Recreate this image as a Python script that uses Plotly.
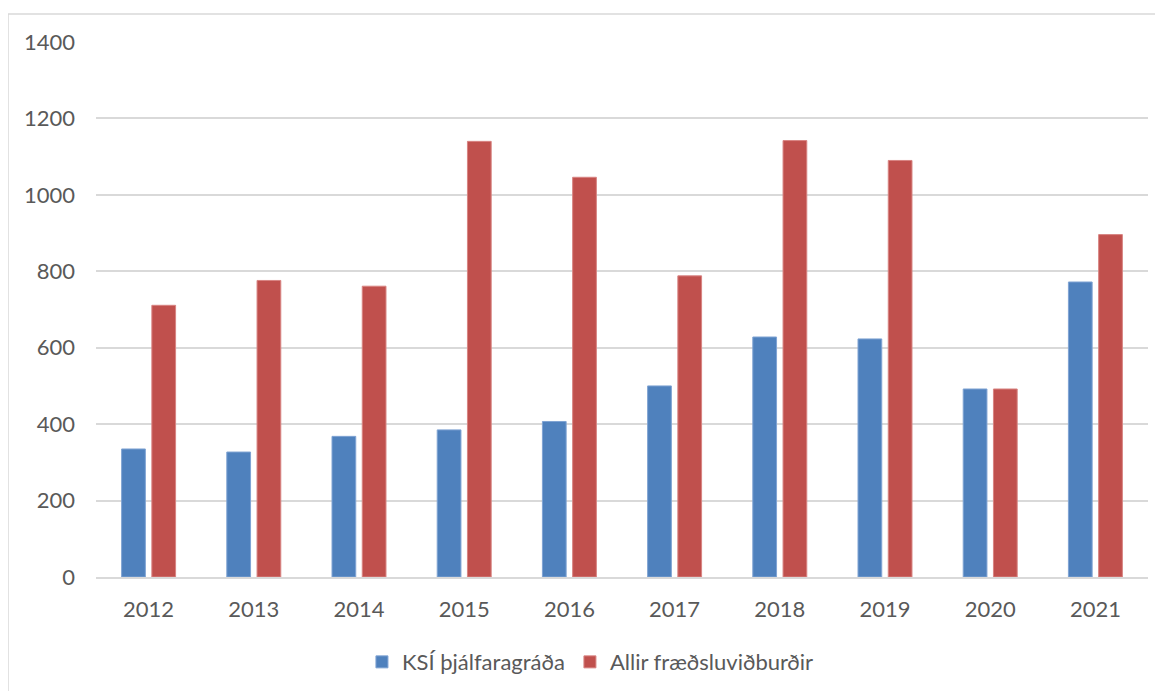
import plotly.graph_objects as go

years = ["2012", "2013", "2014", "2015", "2016", "2017", "2018", "2019", "2020", "2021"]
ksi = [335, 327, 368, 385, 407, 500, 628, 623, 492, 772]
allir = [711, 776, 761, 1140, 1046, 788, 1142, 1090, 492, 896]

W, H = 1163, 691
OFF = 8  # page body margin
L, R, T, B = 96 - OFF, 23, 42 - OFF, 122
pw, ph = W - L - R, H - T - B

def px_x(x):
    return (x - OFF - L) / pw

def px_y(y):
    return (H - B - (y - OFF)) / ph

fig = go.Figure()
fig.add_trace(go.Bar(x=years, y=ksi, name="KSÍ þjálfaragráða",
                     marker=dict(color="#4F81BD", line=dict(color="#7FA3D3", width=1))))
fig.add_trace(go.Bar(x=years, y=allir, name="Allir fræðsluviðburðir",
                     marker=dict(color="#C0504D", line=dict(color="#D88482", width=1))))

fig.update_layout(
    width=W, height=H,
    margin=dict(l=L, r=R, t=T, b=B),
    paper_bgcolor="white", plot_bgcolor="white",
    barmode="group", bargap=0.425, bargroupgap=0.215,
    font=dict(family="Lato, Open Sans, sans-serif", size=22, color="#595959"),
    legend=dict(orientation="h", x=0.47, xanchor="center", y=-0.159, yanchor="middle",
                font=dict(size=22, color="#595959"), itemwidth=30),
    showlegend=True,
    shapes=[dict(type="rect", xref="paper", yref="paper",
                 x0=px_x(8), x1=px_x(1180), y0=px_y(710), y1=px_y(14),
                 line=dict(color="#D9D9D9", width=1.5), fillcolor="rgba(0,0,0,0)", layer="below")],
)
fig.update_xaxes(showgrid=False, showline=True, linecolor="#D9D9D9", linewidth=1.5,
                 ticks="", ticklabelstandoff=12, tickfont=dict(size=22, color="#595959"))
fig.update_yaxes(range=[0, 1400], dtick=200, showgrid=True, gridcolor="#D9D9D9", gridwidth=1.5,
                 zeroline=False, showline=False, ticks="", ticklabelstandoff=20,
                 tickfont=dict(size=22, color="#595959"))

fig.write_html("out.html")
